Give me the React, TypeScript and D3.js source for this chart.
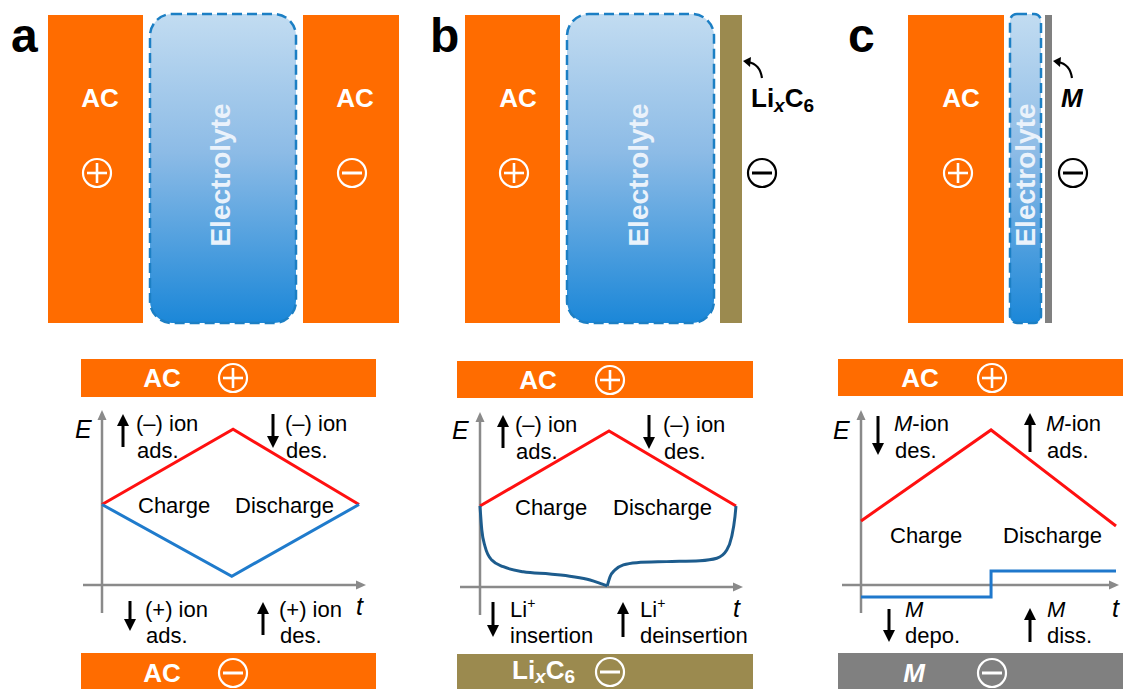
import React from "react";
import * as d3 from "d3";

// ---- curve data (t and E in arbitrary units, 0..10) ----
const redTA = [0, 5.1, 10];
const redEA = [4.6, 8.9, 4.6];
const blueTA = [0, 5.05, 10];
const blueEA = [4.6, 0.5, 4.6];

const redTB = [0, 5.04, 10];
const redEB = [4.63, 8.91, 4.63];
const blueChargeTB = [0, 0.07, 0.2, 0.46, 0.91, 1.69, 2.73, 3.64, 4.3, 4.69, 4.97];
const blueChargeEB = [4.63, 3.26, 2.3, 1.54, 1.16, 0.87, 0.74, 0.59, 0.4, 0.21, 0.06];
const blueDischargeTB = [4.97, 5.08, 5.27, 5.6, 6.12, 7.29, 8.59, 9.25, 9.64, 9.83, 9.96, 10];
const blueDischargeEB = [0.06, 0.59, 0.97, 1.26, 1.39, 1.45, 1.5, 1.64, 2.11, 2.87, 4.02, 4.63];

const redTC = [0, 5.1, 10];
const redEC = [3.66, 8.86, 3.37];
const blueTC = [0, 5.1, 10];
const blueEC = [-0.69, 0.8, 0.8];

const FONT = "'Liberation Sans', Arial, sans-serif";
const ORANGE = "#ff6c00";
const OLIVE = "#9b8a4f";
const GRAY = "#808080";
const AXIS = "#8a8a8a";
const RED = "#ff1010";

type Pt = [number, number];
const zip = (t: number[], e: number[]): Pt[] => t.map((v, i) => [v, e[i]]);

function makeScales(x0: number, x1: number, y0: number) {
  const x = d3.scaleLinear().domain([0, 10]).range([x0, x1]);
  const y = d3.scaleLinear().domain([0, 10]).range([y0, y0 - 175]);
  return { x, y };
}

function VArrow({ x, from, to, color = "#000", w = 3, head = 12 }: any) {
  const dir = to > from ? 1 : -1;
  const base = to - dir * head;
  return (
    <g>
      <line x1={x} y1={from} x2={x} y2={base + dir * 1} stroke={color} strokeWidth={w} />
      <polygon points={`${x - 6},${base} ${x + 6},${base} ${x},${to}`} fill={color} />
    </g>
  );
}

function HArrow({ y, from, to, color = AXIS, w = 2.5, head = 10 }: any) {
  const base = to - head;
  return (
    <g>
      <line x1={from} y1={y} x2={base} y2={y} stroke={color} strokeWidth={w} />
      <polygon points={`${base},${y - 4.5} ${base},${y + 4.5} ${to},${y}`} fill={color} />
    </g>
  );
}

function Plus({ cx, cy, color }: any) {
  return (
    <g stroke={color} strokeWidth={2.2} fill="none">
      <circle cx={cx} cy={cy} r={14} />
      <line x1={cx - 10} y1={cy} x2={cx + 10} y2={cy} strokeWidth={2.6} />
      <line x1={cx} y1={cy - 10} x2={cx} y2={cy + 10} strokeWidth={2.6} />
    </g>
  );
}

function Minus({ cx, cy, color }: any) {
  return (
    <g stroke={color} strokeWidth={2.2} fill="none">
      <circle cx={cx} cy={cy} r={14} />
      <line x1={cx - 10} y1={cy} x2={cx + 10} y2={cy} strokeWidth={3} />
    </g>
  );
}

function Axes({ sx, sy, left, right }: any) {
  const ox = sx(0);
  const oy = sy(0);
  return (
    <g>
      <HArrow y={oy} from={left} to={right} />
      <line x1={ox} y1={oy + 28} x2={ox} y2={sy(10) + 10} stroke={AXIS} strokeWidth={2.5} />
      <polygon points={`${ox - 4.5},${sy(10) + 10} ${ox + 4.5},${sy(10) + 10} ${ox},${sy(10)}`} fill={AXIS} />
    </g>
  );
}

function Electrolyte({ x, w, rx, cxText }: any) {
  return (
    <g>
      <rect x={x} y={14} width={w} height={309} rx={rx} ry={rx} fill="url(#elecGrad)" stroke="#1c7fc4" strokeWidth={2.5} strokeDasharray="10 5" />
      <text
        transform={`translate(${cxText},175) rotate(-90)`}
        textAnchor="middle"
        dominantBaseline="central"
        fontFamily={FONT}
        fontWeight="bold"
        fontSize={28}
        fill="#eaf2fb"
      >
        Electrolyte
      </text>
    </g>
  );
}

const txt = { fontFamily: FONT, fontSize: 22, fill: "#000" } as const;

export default function App() {
  const A = makeScales(102, 359, 585);
  const B = makeScales(480, 736, 587);
  const C = makeScales(861, 1116, 585);

  const lineA = d3.line<Pt>().x((d) => A.x(d[0])).y((d) => A.y(d[1]));
  const lineB = d3.line<Pt>().x((d) => B.x(d[0])).y((d) => B.y(d[1]));
  const curveB = d3.line<Pt>().x((d) => B.x(d[0])).y((d) => B.y(d[1])).curve(d3.curveMonotoneX);
  const lineC = d3.line<Pt>().x((d) => C.x(d[0])).y((d) => C.y(d[1]));
  const stepC = d3.line<Pt>().x((d) => C.x(d[0])).y((d) => C.y(d[1])).curve(d3.curveStepAfter);

  return (
    <div style={{ position: "absolute", left: 0, top: 0 }}>
      <svg width={1123} height={689} style={{ display: "block", background: "#fff" }}>
        <defs>
          <linearGradient id="elecGrad" x1="0" y1="0" x2="0" y2="1">
            <stop offset="0" stopColor="#c2dcf1" />
            <stop offset="0.45" stopColor="#8cbbe6" />
            <stop offset="1" stopColor="#1b87d8" />
          </linearGradient>
        </defs>

        {/* panel letters */}
        <g fontFamily={FONT} fontWeight="bold" fontSize={48} fill="#000">
          <text x={11} y={52}>a</text>
          <text x={430} y={52}>b</text>
          <text x={848} y={52}>c</text>
        </g>

        {/* ---- panel a: symmetric AC // AC cell ---- */}
        <rect x={48} y={15} width={95} height={308} fill={ORANGE} />
        <rect x={303} y={15} width={96} height={308} fill={ORANGE} />
        <Electrolyte x={150} w={146} rx={22} cxText={220} />
        <text x={100} y={107} textAnchor="middle" fontFamily={FONT} fontWeight="bold" fontSize={26} fill="#fff">AC</text>
        <text x={355} y={107} textAnchor="middle" fontFamily={FONT} fontWeight="bold" fontSize={26} fill="#fff">AC</text>
        <Plus cx={97} cy={173} color="#fff" />
        <Minus cx={352} cy={173} color="#fff" />

        {/* ---- panel b: AC // LixC6 cell ---- */}
        <rect x={465} y={15} width={95} height={308} fill={ORANGE} />
        <Electrolyte x={567} w={147} rx={22} cxText={638} />
        <rect x={720} y={15} width={22} height={308} fill={OLIVE} />
        <text x={518} y={107} textAnchor="middle" fontFamily={FONT} fontWeight="bold" fontSize={26} fill="#fff">AC</text>
        <Plus cx={514} cy={173} color="#fff" />
        <path d="M762,78 Q760,64 748,62" fill="none" stroke="#000" strokeWidth={2.2} />
        <polygon points="743,61 751,57 750,67" fill="#000" />
        <text x={751} y={107} fontFamily={FONT} fontWeight="bold" fontSize={26} fill="#000">
          Li<tspan fontStyle="italic" fontSize={19} dy={5}>x</tspan>
          <tspan dy={-5}>C</tspan>
          <tspan fontSize={19} dy={5}>6</tspan>
        </text>
        <Minus cx={762} cy={173} color="#000" />

        {/* ---- panel c: AC // metal cell ---- */}
        <rect x={908} y={15} width={96} height={308} fill={ORANGE} />
        <Electrolyte x={1010} w={31} rx={7} cxText={1025} />
        <rect x={1045} y={15} width={7} height={308} fill={GRAY} />
        <text x={961} y={107} textAnchor="middle" fontFamily={FONT} fontWeight="bold" fontSize={26} fill="#fff">AC</text>
        <Plus cx={958} cy={173} color="#fff" />
        <path d="M1072,78 Q1070,64 1058,62" fill="none" stroke="#000" strokeWidth={2.2} />
        <polygon points="1053,61 1061,57 1060,67" fill="#000" />
        <text x={1061} y={107} fontFamily={FONT} fontWeight="bold" fontStyle="italic" fontSize={26} fill="#000">M</text>
        <Minus cx={1073} cy={173} color="#000" />

        {/* ---- bottom a ---- */}
        <rect x={81} y={359} width={295} height={38} fill={ORANGE} />
        <text x={162} y={387} textAnchor="middle" fontFamily={FONT} fontWeight="bold" fontSize={26} fill="#fff">AC</text>
        <Plus cx={233} cy={378} color="#fff" />
        <rect x={81} y={653} width={295} height={40} fill={ORANGE} />
        <text x={162} y={682} textAnchor="middle" fontFamily={FONT} fontWeight="bold" fontSize={26} fill="#fff">AC</text>
        <Minus cx={233} cy={673} color="#fff" />

        <Axes sx={A.x} sy={A.y} left={83} right={366} />
        <text x={75} y={438} fontFamily={FONT} fontStyle="italic" fontSize={25}>E</text>
        <text x={356} y={615} fontFamily={FONT} fontStyle="italic" fontSize={25}>t</text>
        <path d={lineA(zip(redTA, redEA)) || ""} fill="none" stroke={RED} strokeWidth={3} />
        <path d={lineA(zip(blueTA, blueEA)) || ""} fill="none" stroke="#1f7bcc" strokeWidth={3} />
        <text x={138} y={513} {...txt}>Charge</text>
        <text x={235} y={513} {...txt}>Discharge</text>
        <VArrow x={123} from={447} to={414} />
        <text x={136} y={431} {...txt}>(–) ion</text>
        <text x={137} y={458} {...txt}>ads.</text>
        <VArrow x={273} from={414} to={448} />
        <text x={285} y={431} {...txt}>(–) ion</text>
        <text x={286} y={458} {...txt}>des.</text>
        <VArrow x={130} from={601} to={631} />
        <text x={145} y={617} {...txt}>(+) ion</text>
        <text x={146} y={643} {...txt}>ads.</text>
        <VArrow x={263} from={635} to={602} />
        <text x={279} y={617} {...txt}>(+) ion</text>
        <text x={280} y={643} {...txt}>des.</text>

        {/* ---- bottom b ---- */}
        <rect x={457} y={361} width={296} height={37} fill={ORANGE} />
        <text x={538} y={389} textAnchor="middle" fontFamily={FONT} fontWeight="bold" fontSize={26} fill="#fff">AC</text>
        <Plus cx={610} cy={380} color="#fff" />
        <rect x={457} y={654} width={296} height={40} fill={OLIVE} />
        <text x={512} y={679} fontFamily={FONT} fontWeight="bold" fontSize={26} fill="#fff">
          Li<tspan fontStyle="italic" fontSize={19} dy={4}>x</tspan>
          <tspan dy={-4}>C</tspan>
          <tspan fontSize={19} dy={4}>6</tspan>
        </text>
        <Minus cx={610} cy={672} color="#fff" />

        <Axes sx={B.x} sy={B.y} left={460} right={743} />
        <text x={452} y={439} fontFamily={FONT} fontStyle="italic" fontSize={25}>E</text>
        <text x={733} y={617} fontFamily={FONT} fontStyle="italic" fontSize={25}>t</text>
        <path d={lineB(zip(redTB, redEB)) || ""} fill="none" stroke={RED} strokeWidth={3} />
        <path d={curveB(zip(blueChargeTB, blueChargeEB)) || ""} fill="none" stroke="#1d5c8d" strokeWidth={3} />
        <path d={curveB(zip(blueDischargeTB, blueDischargeEB)) || ""} fill="none" stroke="#1d5c8d" strokeWidth={3} />
        <text x={515} y={515} {...txt}>Charge</text>
        <text x={613} y={515} {...txt}>Discharge</text>
        <VArrow x={503} from={448} to={415} />
        <text x={515} y={432} {...txt}>(–) ion</text>
        <text x={516} y={459} {...txt}>ads.</text>
        <VArrow x={649} from={415} to={449} />
        <text x={663} y={432} {...txt}>(–) ion</text>
        <text x={664} y={459} {...txt}>des.</text>
        <VArrow x={493} from={602} to={637} />
        <text x={510} y={617} {...txt}>Li<tspan fontSize={14} dy={-9}>+</tspan></text>
        <text x={510} y={643} {...txt}>insertion</text>
        <VArrow x={623} from={637} to={602} />
        <text x={640} y={617} {...txt}>Li<tspan fontSize={14} dy={-9}>+</tspan></text>
        <text x={640} y={643} {...txt}>deinsertion</text>

        {/* ---- bottom c ---- */}
        <rect x={838} y={359} width={285} height={37} fill={ORANGE} />
        <text x={920} y={387} textAnchor="middle" fontFamily={FONT} fontWeight="bold" fontSize={26} fill="#fff">AC</text>
        <Plus cx={992} cy={378} color="#fff" />
        <rect x={838} y={653} width={285} height={40} fill={GRAY} />
        <text x={914} y={682} textAnchor="middle" fontFamily={FONT} fontWeight="bold" fontStyle="italic" fontSize={26} fill="#fff">M</text>
        <Minus cx={992} cy={673} color="#fff" />

        <Axes sx={C.x} sy={C.y} left={842} right={1119} />
        <text x={833} y={439} fontFamily={FONT} fontStyle="italic" fontSize={25}>E</text>
        <text x={1112} y={617} fontFamily={FONT} fontStyle="italic" fontSize={25}>t</text>
        <path d={lineC(zip(redTC, redEC)) || ""} fill="none" stroke={RED} strokeWidth={3} />
        <path d={stepC(zip(blueTC, blueEC)) || ""} fill="none" stroke="#1f78cc" strokeWidth={3} />
        <text x={890} y={543} {...txt}>Charge</text>
        <text x={1003} y={543} {...txt}>Discharge</text>
        <VArrow x={878} from={416} to={455} />
        <text x={894} y={431} {...txt}><tspan fontStyle="italic">M</tspan>-ion</text>
        <text x={895} y={458} {...txt}>des.</text>
        <VArrow x={1030} from={452} to={413} />
        <text x={1046} y={431} {...txt}><tspan fontStyle="italic">M</tspan>-ion</text>
        <text x={1047} y={458} {...txt}>ads.</text>
        <VArrow x={889} from={609} to={642} />
        <text x={905} y={617} {...txt} fontStyle="italic">M</text>
        <text x={905} y={643} {...txt}>depo.</text>
        <VArrow x={1030} from={642} to={608} />
        <text x={1047} y={617} {...txt} fontStyle="italic">M</text>
        <text x={1047} y={643} {...txt}>diss.</text>
      </svg>
    </div>
  );
}
